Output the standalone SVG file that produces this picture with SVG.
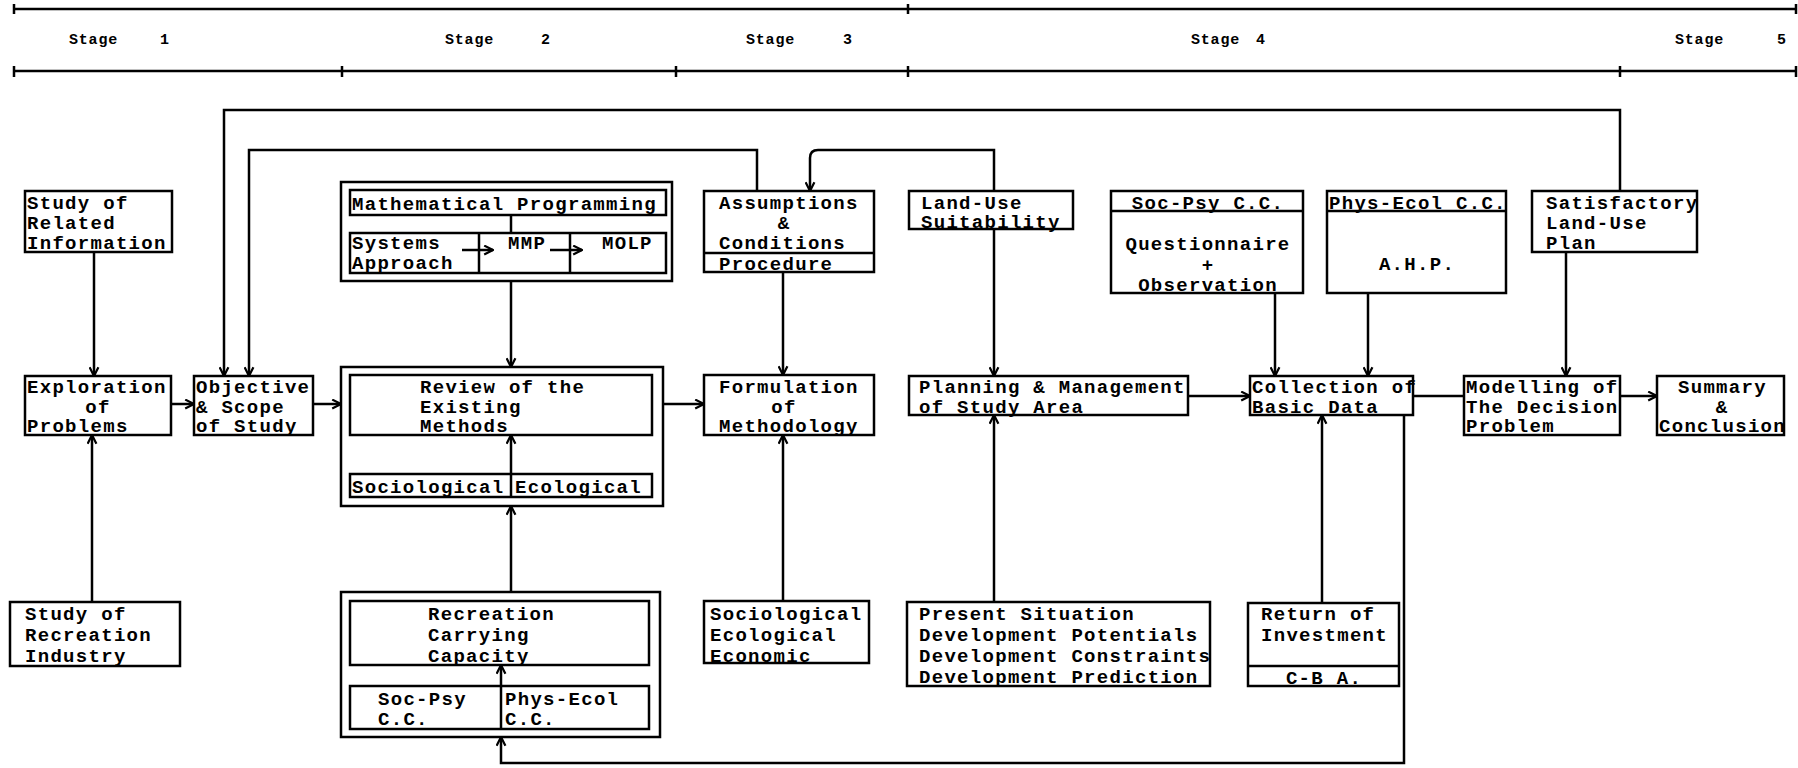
<svg xmlns="http://www.w3.org/2000/svg" width="1798" height="768" viewBox="0 0 1798 768">
<style>
.b{fill:none;stroke:#000;stroke-width:2.5}
.c{fill:none;stroke:#000;stroke-width:2.5}
.t{font-family:"Liberation Mono",monospace;font-size:19px;font-weight:bold;letter-spacing:1.3px;fill:#000}
.m{text-anchor:middle}
.s{font-family:"Liberation Mono",monospace;font-size:15px;font-weight:bold;letter-spacing:0.8px;fill:#000}
</style>
<defs>
<marker id="a" viewBox="0 0 10 10" refX="9" refY="5" markerWidth="11" markerHeight="11" orient="auto" markerUnits="userSpaceOnUse">
<path d="M1,1 L9,5 L1,9" fill="none" stroke="#000" stroke-width="2"/>
</marker>
</defs>
<rect width="1798" height="768" fill="#fff"/>

<g id="stages">
<path class="c" d="M14,9 H1796 M14,71 H1796 M14,4 V14 M908,4 V14 M1796,4 V14 M14,66 V77 M342,66 V77 M676,66 V77 M908,66 V77 M1620,66 V77 M1796,66 V77"/>
<text class="s" x="69" y="44">Stage<tspan x="160">1</tspan></text>
<text class="s" x="445" y="44">Stage<tspan x="541">2</tspan></text>
<text class="s" x="746" y="44">Stage<tspan x="843">3</tspan></text>
<text class="s" x="1191" y="44">Stage<tspan x="1256">4</tspan></text>
<text class="s" x="1675" y="44">Stage<tspan x="1777">5</tspan></text>
</g>

<g id="connectors">
<path class="c" d="M94,252 V376" marker-end="url(#a)"/>
<path class="c" d="M92,602 V435" marker-end="url(#a)"/>
<path class="c" d="M171,404 H194" marker-end="url(#a)"/>
<path class="c" d="M313,404 H341" marker-end="url(#a)"/>
<path class="c" d="M663,404 H704" marker-end="url(#a)"/>
<path class="c" d="M1188,396 H1250" marker-end="url(#a)"/>
<path class="c" d="M1413,396 H1464"/>
<path class="c" d="M1620,396 H1657" marker-end="url(#a)"/>
<path class="c" d="M1566,252 V376" marker-end="url(#a)"/>
<path class="c" d="M1368,293 V376" marker-end="url(#a)"/>
<path class="c" d="M1275,293 V376" marker-end="url(#a)"/>
<path class="c" d="M1322,603 V415" marker-end="url(#a)"/>
<path class="c" d="M1404,415 V763 H501 V737" marker-end="url(#a)"/>
<path class="c" d="M501,729 V665" marker-end="url(#a)"/>
<path class="c" d="M994,602 V415" marker-end="url(#a)"/>
<path class="c" d="M994,229 V376" marker-end="url(#a)"/>
<path class="c" d="M783,272 V375" marker-end="url(#a)"/>
<path class="c" d="M783,601 V435" marker-end="url(#a)"/>
<path class="c" d="M511,592 V506" marker-end="url(#a)"/>
<path class="c" d="M511,281 V367" marker-end="url(#a)"/>
<path class="c" d="M511,497 V435" marker-end="url(#a)"/>
<path class="c" d="M511,215 V233"/>
<path class="c" d="M1620,191 V110 H224 V376" marker-end="url(#a)"/>
<path class="c" d="M757,191 V150 H249 V376" marker-end="url(#a)"/>
<path class="c" d="M994,191 V150 H818 Q810,150 810,158 V191" marker-end="url(#a)"/>
<path class="c" d="M462,250 H493" marker-end="url(#a)"/>
<path class="c" d="M550,250 H582" marker-end="url(#a)"/>
</g>

<g id="n-info">
<rect class="b" x="25" y="191" width="147" height="61"/>
<text class="t" x="27" y="209">Study of</text>
<text class="t" x="27" y="229">Related</text>
<text class="t" x="27" y="249">Information</text>
</g>

<g id="n-exploration">
<rect class="b" x="25" y="376" width="146" height="59"/>
<text class="t" x="27" y="393">Exploration</text>
<text class="t m" x="98" y="413">of</text>
<text class="t" x="27" y="432">Problems</text>
</g>

<g id="n-objective">
<rect class="b" x="194" y="376" width="119" height="59"/>
<text class="t" x="196" y="393">Objective</text>
<text class="t" x="196" y="413">&amp; Scope</text>
<text class="t" x="196" y="432">of Study</text>
</g>

<g id="n-recind">
<rect class="b" x="10" y="602" width="170" height="64"/>
<text class="t" x="25" y="620">Study of</text>
<text class="t" x="25" y="641">Recreation</text>
<text class="t" x="25" y="662">Industry</text>
</g>

<g id="n-mp">
<rect class="b" x="341" y="182" width="331" height="99"/>
<rect class="b" x="350" y="190" width="316" height="25"/>
<rect class="b" x="350" y="233" width="316" height="40"/>
<path class="c" d="M479,233 V273 M570,233 V273"/>
<text class="t" x="352" y="210">Mathematical Programming</text>
<text class="t" x="352" y="249">Systems</text>
<text class="t" x="352" y="269">Approach</text>
<text class="t" x="508" y="249">MMP</text>
<text class="t" x="602" y="249">MOLP</text>
</g>

<g id="n-review">
<rect class="b" x="341" y="367" width="322" height="139"/>
<rect class="b" x="350" y="375" width="302" height="60"/>
<rect class="b" x="350" y="474" width="302" height="23"/>
<text class="t" x="420" y="393">Review of the</text>
<text class="t" x="420" y="413">Existing</text>
<text class="t" x="420" y="432">Methods</text>
<text class="t" x="352" y="493">Sociological</text>
<text class="t" x="515" y="493">Ecological</text>
</g>

<g id="n-recreation">
<rect class="b" x="341" y="592" width="319" height="145"/>
<rect class="b" x="350" y="601" width="299" height="64"/>
<rect class="b" x="350" y="686" width="299" height="43"/>
<text class="t" x="428" y="620">Recreation</text>
<text class="t" x="428" y="641">Carrying</text>
<text class="t" x="428" y="662">Capacity</text>
<text class="t" x="378" y="705">Soc-Psy</text>
<text class="t" x="378" y="725">C.C.</text>
<text class="t" x="505" y="705">Phys-Ecol</text>
<text class="t" x="505" y="725">C.C.</text>
</g>

<g id="n-assumptions">
<rect class="b" x="704" y="191" width="170" height="81"/>
<path class="c" d="M704,253 H874"/>
<text class="t" x="719" y="209">Assumptions</text>
<text class="t m" x="784" y="229">&amp;</text>
<text class="t" x="719" y="249">Conditions</text>
<text class="t" x="719" y="270">Procedure</text>
</g>

<g id="n-formulation">
<rect class="b" x="704" y="375" width="170" height="60"/>
<text class="t" x="719" y="393">Formulation</text>
<text class="t m" x="784" y="413">of</text>
<text class="t" x="719" y="432">Methodology</text>
</g>

<g id="n-factors">
<rect class="b" x="704" y="601" width="165" height="62"/>
<text class="t" x="710" y="620">Sociological</text>
<text class="t" x="710" y="641">Ecological</text>
<text class="t" x="710" y="662">Economic</text>
</g>

<g id="n-landuse">
<rect class="b" x="909" y="191" width="164" height="38"/>
<text class="t" x="921" y="209">Land-Use</text>
<text class="t" x="921" y="228">Suitability</text>
</g>

<g id="n-planning">
<rect class="b" x="909" y="376" width="279" height="39"/>
<text class="t" x="919" y="393">Planning &amp; Management</text>
<text class="t" x="919" y="413">of Study Area</text>
</g>

<g id="n-present">
<rect class="b" x="907" y="602" width="303" height="84"/>
<text class="t" x="919" y="620">Present Situation</text>
<text class="t" x="919" y="641">Development Potentials</text>
<text class="t" x="919" y="662">Development Constraints</text>
<text class="t" x="919" y="683">Development Prediction</text>
</g>

<g id="n-socpsy">
<rect class="b" x="1111" y="191" width="192" height="102"/>
<path class="c" d="M1111,211 H1303"/>
<text class="t m" x="1208" y="209">Soc-Psy C.C.</text>
<text class="t m" x="1208" y="250">Questionnaire</text>
<text class="t m" x="1208" y="271">+</text>
<text class="t m" x="1208" y="291">Observation</text>
</g>

<g id="n-physecol">
<rect class="b" x="1327" y="191" width="179" height="102"/>
<path class="c" d="M1327,211 H1506"/>
<text class="t" x="1329" y="209">Phys-Ecol C.C.</text>
<text class="t m" x="1417" y="270">A.H.P.</text>
</g>

<g id="n-collection">
<rect class="b" x="1250" y="376" width="163" height="39"/>
<text class="t" x="1252" y="393">Collection of</text>
<text class="t" x="1252" y="413">Basic Data</text>
</g>

<g id="n-roi">
<rect class="b" x="1248" y="603" width="151" height="83"/>
<path class="c" d="M1248,666 H1399"/>
<text class="t" x="1261" y="620">Return of</text>
<text class="t" x="1261" y="641">Investment</text>
<text class="t m" x="1324" y="684">C-B A.</text>
</g>

<g id="n-satisfactory">
<rect class="b" x="1532" y="191" width="165" height="61"/>
<text class="t" x="1546" y="209">Satisfactory</text>
<text class="t" x="1546" y="229">Land-Use</text>
<text class="t" x="1546" y="249">Plan</text>
</g>

<g id="n-modelling">
<rect class="b" x="1464" y="376" width="156" height="59"/>
<text class="t" x="1466" y="393">Modelling of</text>
<text class="t" x="1466" y="413">The Decision</text>
<text class="t" x="1466" y="432">Problem</text>
</g>

<g id="n-summary">
<rect class="b" x="1657" y="376" width="127" height="59"/>
<text class="t" x="1678" y="393">Summary</text>
<text class="t m" x="1722" y="413">&amp;</text>
<text class="t" x="1659" y="432">Conclusion</text>
</g>
</svg>
